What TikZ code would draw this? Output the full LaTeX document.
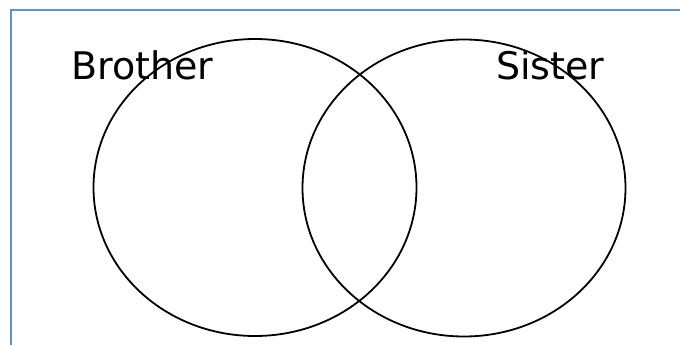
\documentclass[tikz,border=0pt]{standalone}
\usepackage{fontspec}
\setmainfont{DejaVu Sans}
\usetikzlibrary{shapes.geometric}
\definecolor{frameblue}{RGB}{96,142,212}
\tikzset{
    circ/.style={draw, ellipse, line width=1.8pt, minimum width=323pt, minimum height=297pt, inner sep=0pt},
    lbl/.style={anchor=base west, inner sep=0pt, font=\fontsize{38}{40}\selectfont}
}
\begin{document}
\begin{tikzpicture}[x=1pt, y=-1pt]
        \useasboundingbox (0,0) rectangle (680,345);
        \draw[frameblue, line width=1.3pt] (680,10) -- (11,10) -- (11,345);
        \node at (255,187.5) (brother) [circ] {};
        \node at (464,188) (sister) [circ] {};
        \node at (71,80) (brotherlbl) [lbl] {Brother};
        \node at (496,80) (sisterlbl) [lbl] {Sister};
    \end{tikzpicture}
\end{document}
